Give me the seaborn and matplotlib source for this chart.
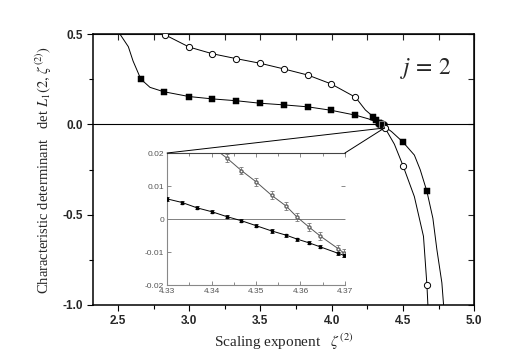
import numpy as np
import pandas as pd
import seaborn as sns
import matplotlib.pyplot as plt
from matplotlib.patches import Rectangle, ConnectionPatch
from matplotlib.ticker import MultipleLocator

# main panel: filled squares and open circles
sq_x = [2.66, 2.82, 3.00, 3.163, 3.329, 3.498, 3.664, 3.833, 3.996, 4.167, 4.29, 4.31, 4.50, 4.668]
sq_y = [0.251, 0.181, 0.154, 0.141, 0.131, 0.117, 0.108, 0.097, 0.078, 0.051, 0.040, 0.025, -0.098, -0.371]
circ_x = [2.83, 3.00, 3.163, 3.33, 3.50, 3.664, 3.833, 3.996, 4.167, 4.375, 4.50, 4.668]
circ_y = [0.496, 0.428, 0.391, 0.364, 0.338, 0.307, 0.273, 0.224, 0.150, -0.021, -0.228, -0.887]

# the drawn curves
sq_line_x = [2.514, 2.573, 2.606, 2.643, 2.66, 2.725, 2.82, 3.0, 3.163, 3.329, 3.498, 3.664,
             3.833, 3.996, 4.167, 4.26, 4.35, 4.42, 4.50, 4.58, 4.621, 4.668, 4.71, 4.738, 4.773, 4.785]
sq_line_y = [0.50, 0.43, 0.351, 0.283, 0.251, 0.205, 0.181, 0.154, 0.141, 0.131, 0.117, 0.108,
             0.097, 0.078, 0.051, 0.030, 0.0, -0.04, -0.098, -0.17, -0.251, -0.371, -0.52, -0.693, -0.877, -1.0]
circ_line_x = [2.82, 3.0, 3.163, 3.33, 3.50, 3.664, 3.833, 3.996, 4.167, 4.236, 4.31, 4.375,
               4.44, 4.50, 4.58, 4.644, 4.668, 4.675]
circ_line_y = [0.50, 0.428, 0.391, 0.364, 0.338, 0.307, 0.273, 0.224, 0.150, 0.08, 0.03, -0.021,
               -0.11, -0.228, -0.40, -0.62, -0.887, -1.0]

# inset data
in_sq_x = [4.330, 4.3334, 4.3367, 4.3401, 4.3435, 4.3467, 4.350, 4.3535, 4.3568, 4.3593,
           4.3619, 4.3644, 4.3685, 4.3698]
in_sq_y = [0.0061, 0.0050, 0.0034, 0.0022, 0.0007, -0.0005, -0.0020, -0.0036, -0.0049, -0.0061,
           -0.0072, -0.0084, -0.0104, -0.0110]
in_sq_err = [0.0005] * len(in_sq_x)
in_ci_x = [4.3435, 4.3467, 4.350, 4.3535, 4.3568, 4.3593, 4.3619, 4.3644, 4.3685, 4.3698]
in_ci_y = [0.0184, 0.0147, 0.0113, 0.0072, 0.0039, 0.0005, -0.0024, -0.0051, -0.0090, -0.0103]
in_ci_err = [0.0012] * len(in_ci_x)

sns.set_style('ticks')
plt.rcParams['font.family'] = ['Liberation Sans', 'DejaVu Sans']
plt.rcParams['mathtext.fontset'] = 'stix'
plt.rcParams['axes.unicode_minus'] = False

fig = plt.figure(figsize=(5.11, 3.55), dpi=100)
ax = fig.add_axes([0.182, 0.141, 0.746, 0.763])

ax.axhline(0, color='black', lw=0.8, zorder=1)
sns.lineplot(x=sq_line_x, y=sq_line_y, sort=False, estimator=None, color='black', lw=0.7, ax=ax)
sns.lineplot(x=circ_line_x, y=circ_line_y, sort=False, estimator=None, color='black', lw=0.7, ax=ax)
sns.scatterplot(x=sq_x, y=sq_y, marker='s', s=18, color='black', edgecolor='black', ax=ax, zorder=3)
sns.scatterplot(x=in_sq_x, y=in_sq_y, marker='s', s=18, color='black', edgecolor='black', ax=ax, zorder=3)
sns.scatterplot(x=circ_x, y=circ_y, marker='o', s=20, facecolor='white', edgecolor='black',
                linewidth=0.7, ax=ax, zorder=3)
ax.add_patch(Rectangle((4.33, -0.02), 0.04, 0.04, fill=False, ec='grey', lw=0.8, zorder=4))

ax.set_xlim(2.325, 5.0)
ax.set_ylim(-1.0, 0.5)
ax.xaxis.set_minor_locator(MultipleLocator(0.25))
ax.yaxis.set_minor_locator(MultipleLocator(0.25))
ax.set_xticks([2.5, 3.0, 3.5, 4.0, 4.5, 5.0])
ax.set_xticklabels(['2.5', '3.0', '3.5', '4.0', '4.5', '5.0'])
ax.set_yticks([-1.0, -0.5, 0.0, 0.5])
ax.set_yticklabels(['-1.0', '-0.5', '0.0', '0.5'])
ax.tick_params(which='both', direction='out', labelsize=8.5, width=0.8, color='black')
ax.tick_params(which='major', length=4)
ax.tick_params(which='minor', length=3)
for lab in ax.get_xticklabels() + ax.get_yticklabels():
    lab.set_fontweight('bold')
for s in ax.spines.values():
    s.set_linewidth(1.1)
    s.set_color('black')

# inward ticks on top and right
axt = ax.secondary_xaxis('top')
axt.xaxis.set_major_locator(MultipleLocator(0.5))
axt.xaxis.set_minor_locator(MultipleLocator(0.25))
axt.tick_params(which='both', direction='in', labeltop=False, length=4, width=0.8)
axr = ax.secondary_yaxis('right')
axr.yaxis.set_major_locator(MultipleLocator(0.5))
axr.yaxis.set_minor_locator(MultipleLocator(0.25))
axr.tick_params(which='both', direction='in', labelright=False, length=4, width=0.8)

ax.set_xlabel(r'Scaling exponent   $\zeta^{(2)}$', fontfamily='Liberation Serif', fontsize=11, labelpad=3)
ax.set_ylabel(r'Characteristic determinant   det $L_1(2,\,\zeta^{(2)})$', fontfamily='Liberation Serif',
              fontsize=10.5, labelpad=6)
ax.text(4.657, 0.312, r'$j\,=\,2$', fontsize=17, ha='center', va='center')

# inset
axin = fig.add_axes([0.327, 0.197, 0.348, 0.372])
axin.set_facecolor('white')
axin.axhline(0, color='grey', lw=0.7)
sns.lineplot(x=[4.3405] + in_ci_x, y=[0.0215] + in_ci_y, sort=False, estimator=None,
             color='#555555', lw=0.7, ax=axin)
sns.lineplot(x=in_sq_x, y=in_sq_y, sort=False, estimator=None, color='black', lw=0.7, ax=axin)
axin.errorbar(in_ci_x, in_ci_y, yerr=in_ci_err, fmt='o', ms=2.2, mfc='white', mec='#666666',
              ecolor='#777777', elinewidth=0.6, capsize=1.5, capthick=0.6, zorder=3)
axin.errorbar(in_sq_x, in_sq_y, yerr=in_sq_err, fmt='s', ms=2.0, color='black',
              elinewidth=0.6, capsize=1.2, capthick=0.6, zorder=3)
axin.set_xlim(4.33, 4.37)
axin.set_ylim(-0.02, 0.02)
axin.set_xticks([4.33, 4.34, 4.35, 4.36, 4.37])
axin.set_xticklabels(['4.33', '4.34', '4.35', '4.36', '4.37'])
axin.set_yticks([-0.02, -0.01, 0, 0.01, 0.02])
axin.set_yticklabels(['-0.02', '-0.01', '0', '0.01', '0.02'])
axin.xaxis.set_minor_locator(MultipleLocator(0.005))
axin.tick_params(which='both', direction='in', top=True, right=True, labelsize=6,
                 labelcolor='#555555', color='#777777', width=0.6, pad=2)
axin.tick_params(which='major', length=3)
axin.tick_params(which='minor', length=2)
for side in ['left', 'bottom']:
    axin.spines[side].set_color('#888888')
    axin.spines[side].set_linewidth(0.8)
axin.spines['top'].set_color('#444444')
axin.spines['top'].set_linewidth(0.8)
axin.spines['right'].set_visible(False)

for xa in [4.33, 4.37]:
    con = ConnectionPatch(xyA=(xa, 0.02), coordsA=axin.transData, xyB=(4.37, -0.02),
                          coordsB=ax.transData, color='black', lw=0.7)
    fig.add_artist(con)

fig.savefig('out.png', dpi=100)
